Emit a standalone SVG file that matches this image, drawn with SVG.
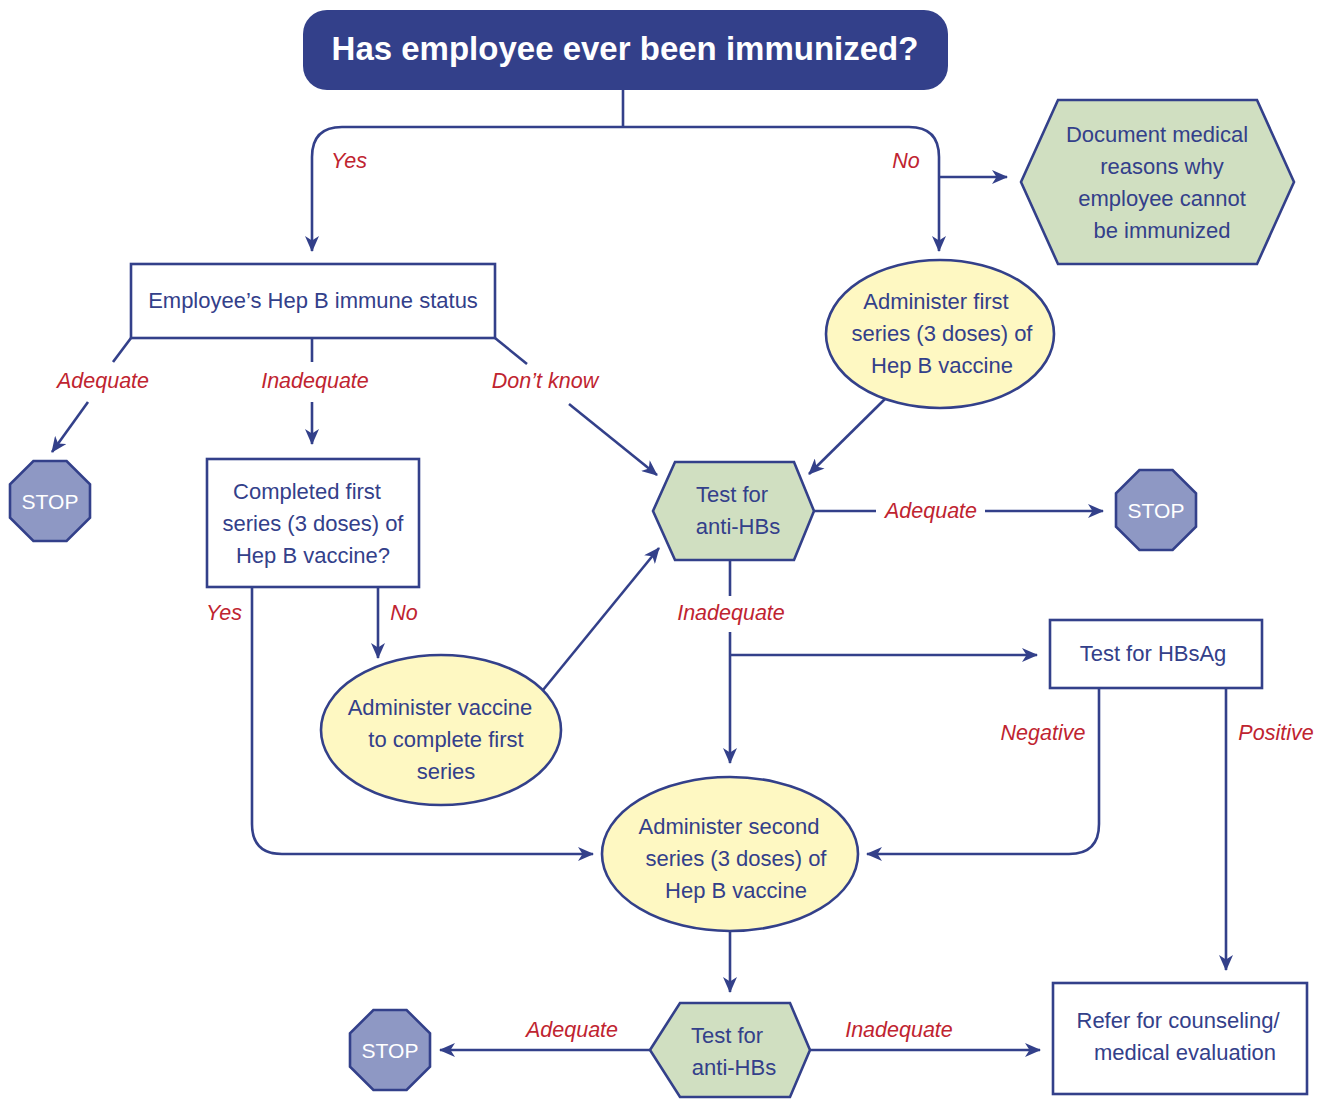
<svg xmlns="http://www.w3.org/2000/svg" width="1319" height="1099" viewBox="0 0 1319 1099">
<defs>
<marker id="arr" markerUnits="userSpaceOnUse" viewBox="0 0 16 14" refX="15" refY="7" markerWidth="16" markerHeight="14" orient="auto">
<path d="M0,0 L16,7 L0,14 L4.5,7 z" fill="#33408a"/>
</marker>
<style>
.ln{fill:none;stroke:#33408a;stroke-width:2.6}
.bx{fill:#ffffff;stroke:#33408a;stroke-width:2.6}
.el{fill:#fef8c2;stroke:#33408a;stroke-width:2.6}
.hx{fill:#d0dfc1;stroke:#33408a;stroke-width:2.6}
.st{fill:#8e98c4;stroke:#33408a;stroke-width:2.6}
.t{font-family:"Liberation Sans",Arial,sans-serif;font-size:22px;fill:#33408a;text-anchor:middle}
.lb{font-family:"Liberation Sans",Arial,sans-serif;font-size:21.5px;fill:#bf2430;font-style:italic;text-anchor:middle}
.sw{font-family:"Liberation Sans",Arial,sans-serif;font-size:21px;fill:#ffffff;text-anchor:middle}
</style>
</defs>
<rect width="1319" height="1099" fill="#ffffff"/>

<g id="connectors">
<path class="ln" d="M623,90 V127"/>
<path class="ln" d="M623,127 H342 Q312,127 312,157 V251" marker-end="url(#arr)"/>
<path class="ln" d="M623,127 H909 Q939,127 939,157 V251" marker-end="url(#arr)"/>
<path class="ln" d="M939,177 H1007" marker-end="url(#arr)"/>
<path class="ln" d="M131,338 L113,362"/>
<path class="ln" d="M88,402 L52,452" marker-end="url(#arr)"/>
<path class="ln" d="M312,338 V362"/>
<path class="ln" d="M312,402 V444" marker-end="url(#arr)"/>
<path class="ln" d="M495,338 L527,364"/>
<path class="ln" d="M569,404 L657,475" marker-end="url(#arr)"/>
<path class="ln" d="M885,399 L809,474" marker-end="url(#arr)"/>
<path class="ln" d="M543,690 L659,548" marker-end="url(#arr)"/>
<path class="ln" d="M814,511 H876"/>
<path class="ln" d="M985,511 H1103" marker-end="url(#arr)"/>
<path class="ln" d="M378,587 V658" marker-end="url(#arr)"/>
<path class="ln" d="M252,587 V824 Q252,854 282,854 H593" marker-end="url(#arr)"/>
<path class="ln" d="M730,560 V596"/>
<path class="ln" d="M730,632 V763" marker-end="url(#arr)"/>
<path class="ln" d="M730,655 H1037" marker-end="url(#arr)"/>
<path class="ln" d="M1099,688 V824 Q1099,854 1069,854 H867" marker-end="url(#arr)"/>
<path class="ln" d="M1226,688 V970" marker-end="url(#arr)"/>
<path class="ln" d="M730,931 V992" marker-end="url(#arr)"/>
<path class="ln" d="M650,1050 H440" marker-end="url(#arr)"/>
<path class="ln" d="M810,1050 H1040" marker-end="url(#arr)"/>
<text class="lb" x="349" y="168">Yes</text>
<text class="lb" x="906" y="168">No</text>
<text class="lb" x="103" y="388">Adequate</text>
<text class="lb" x="315" y="388">Inadequate</text>
<text class="lb" x="545" y="388">Don’t know</text>
<text class="lb" x="931" y="518">Adequate</text>
<text class="lb" x="224" y="620">Yes</text>
<text class="lb" x="404" y="620">No</text>
<text class="lb" x="731" y="620">Inadequate</text>
<text class="lb" x="1043" y="740">Negative</text>
<text class="lb" x="1276" y="740">Positive</text>
<text class="lb" x="572" y="1037">Adequate</text>
<text class="lb" x="899" y="1037">Inadequate</text>
</g>

<g id="title">
<rect x="303" y="10" width="645" height="80" rx="24" fill="#33408a"/>
<text x="625" y="60" font-family="Liberation Sans, Arial, sans-serif" font-size="33" font-weight="bold" fill="#ffffff" text-anchor="middle">Has employee ever been immunized?</text>
</g>

<g id="document">
<polygon class="hx" points="1021,182 1058,100 1257,100 1294,182 1257,264 1058,264"/>
<text class="t" x="1157" y="142">Document medical</text>
<text class="t" x="1162" y="174">reasons why</text>
<text class="t" x="1162" y="206">employee cannot</text>
<text class="t" x="1162" y="238">be immunized</text>
</g>

<g id="status">
<rect class="bx" x="131" y="264" width="364" height="74"/>
<text class="t" x="313" y="308">Employee’s Hep B immune status</text>
</g>

<g id="first-series">
<ellipse class="el" cx="940" cy="334" rx="114" ry="74"/>
<text class="t" x="936" y="309">Administer first</text>
<text class="t" x="942" y="341">series (3 doses) of</text>
<text class="t" x="942" y="373">Hep B vaccine</text>
</g>

<g id="stop1">
<polygon class="st" points="33.4,461 66.6,461 90,484.4 90,517.6 66.6,541 33.4,541 10,517.6 10,484.4"/>
<text class="sw" x="50" y="509">STOP</text>
</g>

<g id="completed">
<rect class="bx" x="207" y="459" width="212" height="128"/>
<text class="t" x="307" y="499">Completed first</text>
<text class="t" x="313" y="531">series (3 doses) of</text>
<text class="t" x="313" y="563">Hep B vaccine?</text>
</g>

<g id="test1">
<polygon class="hx" points="653,511 675,462 794,462 814,511 794,560 675,560"/>
<text class="t" x="732" y="502">Test for</text>
<text class="t" x="738" y="534">anti-HBs</text>
</g>

<g id="stop2">
<polygon class="st" points="1139.4,470 1172.6,470 1196,493.4 1196,526.6 1172.6,550 1139.4,550 1116,526.6 1116,493.4"/>
<text class="sw" x="1156" y="518">STOP</text>
</g>

<g id="complete-first">
<ellipse class="el" cx="441" cy="730" rx="120" ry="75"/>
<text class="t" x="440" y="715">Administer vaccine</text>
<text class="t" x="446" y="747">to complete first</text>
<text class="t" x="446" y="779">series</text>
</g>

<g id="hbsag">
<rect class="bx" x="1050" y="620" width="212" height="68"/>
<text class="t" x="1153" y="661">Test for HBsAg</text>
</g>

<g id="second-series">
<ellipse class="el" cx="730" cy="854" rx="128" ry="77"/>
<text class="t" x="729" y="834">Administer second</text>
<text class="t" x="736" y="866">series (3 doses) of</text>
<text class="t" x="736" y="898">Hep B vaccine</text>
</g>

<g id="test2">
<polygon class="hx" points="650,1050 680,1003 790,1003 810,1050 790,1097 680,1097"/>
<text class="t" x="727" y="1043">Test for</text>
<text class="t" x="734" y="1075">anti-HBs</text>
</g>

<g id="stop3">
<polygon class="st" points="373.4,1010 406.6,1010 430,1033.4 430,1066.6 406.6,1090 373.4,1090 350,1066.6 350,1033.4"/>
<text class="sw" x="390" y="1058">STOP</text>
</g>

<g id="refer">
<rect class="bx" x="1053" y="983" width="254" height="111"/>
<text class="t" x="1178" y="1028">Refer for counseling/</text>
<text class="t" x="1185" y="1060">medical evaluation</text>
</g>
</svg>
